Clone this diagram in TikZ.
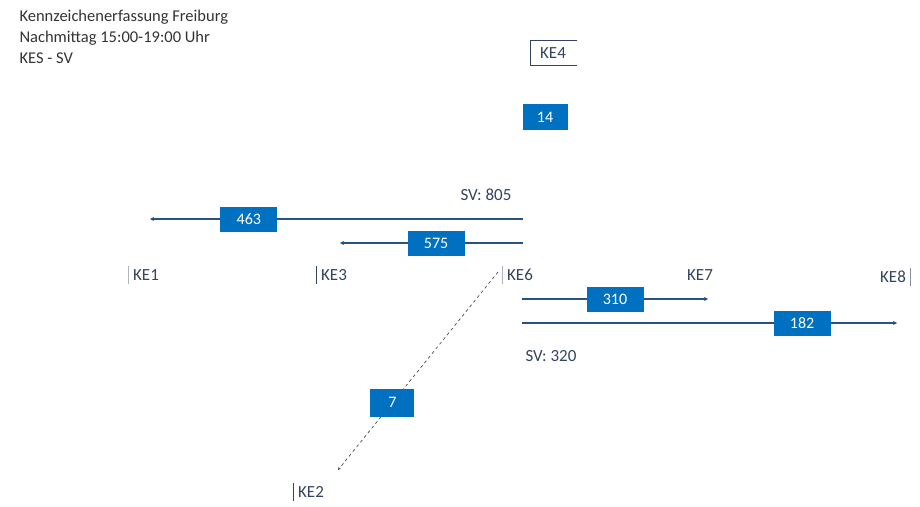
\documentclass[tikz,border=0pt]{standalone}
\usepackage{fontspec}
\setmainfont{Carlito}
\usepackage{xcolor}
\usetikzlibrary{arrows.meta}
\definecolor{boxblue}{RGB}{0,112,192}
\definecolor{lineblue}{RGB}{38,84,128}
\definecolor{kegray}{RGB}{52,68,96}
\begin{document}
\begin{tikzpicture}[x=1pt,y=-1pt,
  every node/.style={font=\fontsize{17}{19}\selectfont},
  val/.style={fill=boxblue,text=white,font=\fontsize{16}{18}\selectfont,minimum width=57pt,minimum height=25pt,inner sep=0pt},
  ke/.style={text=kegray,inner sep=3pt},
  bar/.style={draw=kegray,line width=1pt},
  flow/.style={draw=lineblue,line width=1.3pt,-{Stealth[length=4pt,width=4pt]}}]
 \useasboundingbox (0,0) rectangle (920,506);
 \node[anchor=north west,align=left,text=black!80,font=\fontsize{16.5}{21}\selectfont] (title) at (16,7)
   {Kennzeichenerfassung Freiburg\\Nachmittag 15:00-19:00 Uhr\\KES - SV};
 % Messstellen
 \node[ke] (KE4) at (553,53) {KE4};
 \node[ke] (KE1) at (146,275) {KE1};
 \node[ke] (KE3) at (334,275) {KE3};
 \node[ke] (KE6) at (520,275) {KE6};
 \node[ke] (KE7) at (700,275) {KE7};
 \node[ke] (KE8) at (893,277) {KE8};
 \node[ke] (KE2) at (311,492) {KE2};
 \draw[bar] (577,40) -- (530,40) -- (530,65) -- (577,65);
 \foreach \k in {KE3,KE2}
   \draw[bar] ([xshift=-1pt]\k.north west) -- ([xshift=-1pt]\k.south west);
 \foreach \k in {KE1,KE6}
   \draw[bar,draw=kegray!40] ([xshift=-1pt]\k.north west) -- ([xshift=-1pt]\k.south west);
 \draw[bar,draw=kegray!60] ([xshift=1pt]KE8.north east) -- ([xshift=1pt]KE8.south east);
 \node[val,minimum width=45pt,minimum height=26pt] (v14) at (545,117) {14};
 % Verbindungen
 \coordinate (s1) at (523,219); \coordinate (e1) at (150,219);
 \coordinate (s2) at (523,243); \coordinate (e2) at (340,243);
 \coordinate (s3) at (522,299); \coordinate (e3) at (708,299);
 \coordinate (s4) at (522,323); \coordinate (e4) at (897,323);
 \foreach \a/\b/\p/\v in {s1/e1/0.735/463,s2/e2/0.475/575,s3/e3/0.5/310,s4/e4/0.747/182}
   \draw[flow] (\a) -- node[val,pos=\p] {\v} (\b);
 \coordinate (s5) at (498,272); \coordinate (e5) at (338,470);
 \draw[draw=black!70,line width=0.7pt,dashed,-{Stealth[length=3pt,width=3pt]}] (s5) -- node[val,pos=0.66,minimum width=44pt,minimum height=28pt] {7} (e5);
 \node[text=kegray] (sv1) at (486,195) {SV: 805};
 \node[text=kegray] (sv2) at (551,356) {SV: 320};
\end{tikzpicture}
\end{document}
